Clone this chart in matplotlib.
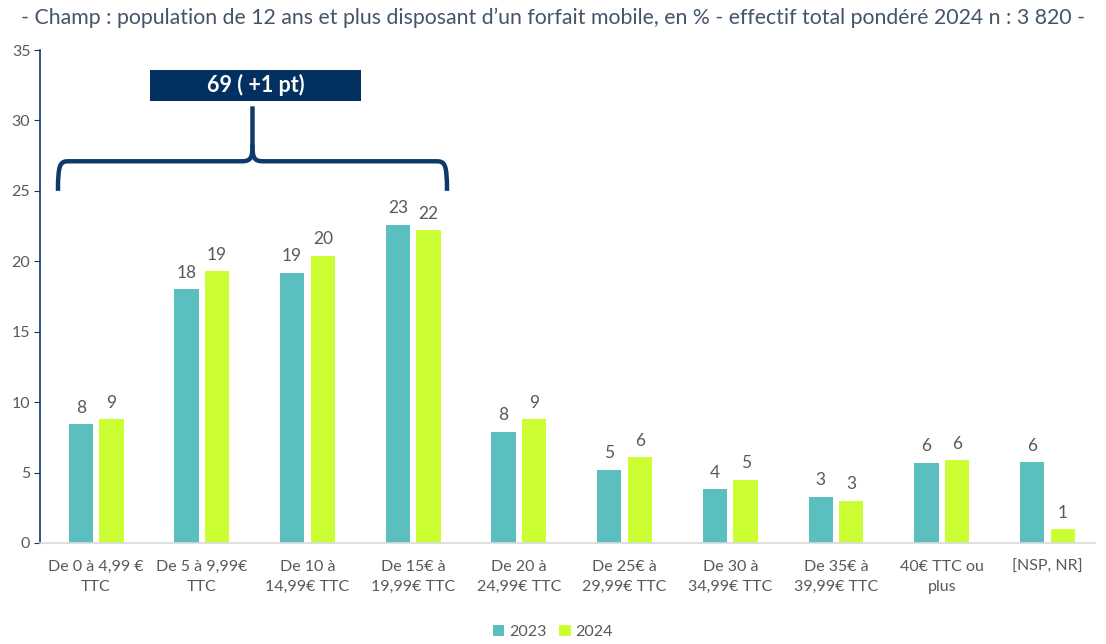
import matplotlib
matplotlib.use("Agg")
import matplotlib.pyplot as plt
from matplotlib.path import Path
from matplotlib.patches import PathPatch, Rectangle
import numpy as np

categories = ["De 0 à 4,99 €\nTTC", "De 5 à 9,99€\nTTC", "De 10 à\n14,99€ TTC", "De 15€ à\n19,99€ TTC",
              "De 20 à\n24,99€ TTC", "De 25€ à\n29,99€ TTC", "De 30 à\n34,99€ TTC", "De 35€ à\n39,99€ TTC",
              "40€ TTC ou\nplus", "[NSP, NR]"]
v2023 = [8.45, 18.0, 19.2, 22.6, 7.9, 5.2, 3.8, 3.3, 5.7, 5.75]
v2024 = [8.8, 19.3, 20.4, 22.2, 8.8, 6.1, 4.5, 3.0, 5.9, 1.0]
lab2023 = ["8", "18", "19", "23", "8", "5", "4", "3", "6", "6"]
lab2024 = ["9", "19", "20", "22", "9", "6", "5", "3", "6", "1"]
series_names = ["2023", "2024"]
title = "- Champ : population de 12 ans et plus disposant d\u2019un forfait mobile, en % - effectif total pondéré 2024 n : 3 820 -"
bracket_text = "69 ( +1 pt)"

plt.rcParams['font.family'] = ['Lato', 'DejaVu Sans']

c23 = "#5BBFBF"
c24 = "#CCFF33"
navy = "#0E3A6B"
grey = "#595959"

fig = plt.figure(figsize=(11.06, 6.44), dpi=100)
ax = fig.add_axes([40/1106, 101/644, 1055/1106, 493/644])

x = np.arange(len(categories))
w = 0.23
off = 0.145
b1 = ax.bar(x - off, v2023, w, color=c23, label=series_names[0])
b2 = ax.bar(x + off, v2024, w, color=c24, label=series_names[1])
for rect, t in zip(b1, lab2023):
    ax.annotate(t, (rect.get_x() + rect.get_width()/2, rect.get_height()), xytext=(0, 6),
                textcoords="offset points", ha="center", va="bottom", fontsize=12.5, color=grey)
for rect, t in zip(b2, lab2024):
    ax.annotate(t, (rect.get_x() + rect.get_width()/2, rect.get_height()), xytext=(0, 6),
                textcoords="offset points", ha="center", va="bottom", fontsize=12.5, color=grey)

ax.set_xlim(-0.53, 9.45)
ax.set_ylim(0, 35)
ax.set_yticks(range(0, 36, 5))
ax.set_xticks(x)
ax.set_xticklabels(categories, fontsize=11.5, color=grey, linespacing=1.6)
ax.tick_params(axis="x", length=0, pad=12)
ax.tick_params(axis="y", length=4, color=navy, labelsize=11.5, labelcolor=grey, pad=3)
for s in ["top", "right"]:
    ax.spines[s].set_visible(False)
ax.spines["left"].set_color(navy)
ax.spines["left"].set_linewidth(1.2)
ax.spines["bottom"].set_color("#D9D9D9")
ax.spines["bottom"].set_linewidth(1.2)

# Bracket
x0, x1, xc = -0.36, 3.32, 1.48
yb, ym, yt = 25.0, 27.1, 31.0
dx = 0.1
verts1 = [(x0, yb), (x0, ym - 0.2), (x0 + 0.02, ym), (x0 + dx, ym),
          (xc - dx, ym),
          (xc - 0.01, ym), (xc, ym + 0.3), (xc, ym + 1.2),
          (xc, yt)]
codes1 = [Path.MOVETO, Path.CURVE4, Path.CURVE4, Path.CURVE4, Path.LINETO,
          Path.CURVE4, Path.CURVE4, Path.CURVE4, Path.LINETO]
verts2 = [(xc, ym + 1.2), (xc, ym + 0.3), (xc + 0.01, ym), (xc + dx, ym),
          (x1 - dx, ym),
          (x1 - 0.02, ym), (x1, ym - 0.2), (x1, yb)]
codes2 = [Path.MOVETO, Path.CURVE4, Path.CURVE4, Path.CURVE4, Path.LINETO,
          Path.CURVE4, Path.CURVE4, Path.CURVE4]
for p in (Path(verts1, codes1), Path(verts2, codes2)):
    ax.add_patch(PathPatch(p, fill=False, edgecolor=navy, lw=3.2, capstyle="butt", joinstyle="round", clip_on=False))

ax.add_patch(Rectangle((0.51, 31.4), 2.0, 2.2, facecolor="#023060", edgecolor="none", clip_on=False))
ax.text(1.51, 32.5, bracket_text, ha="center", va="center", color="white", fontsize=15.5, fontweight="bold")

fig.text(0.5, 1 - 18/644, title, ha="center", va="center", fontsize=15.3, color="#44546A")

leg = fig.legend(handles=[b1, b2], labels=series_names, loc="center", bbox_to_anchor=(0.5, 1 - 632/644),
                 ncol=2, frameon=False, fontsize=11.5, handlelength=0.7, handleheight=0.7,
                 handletextpad=0.3, columnspacing=0.8)
for t in leg.get_texts():
    t.set_color(grey)

fig.savefig("out.png", dpi=100)
